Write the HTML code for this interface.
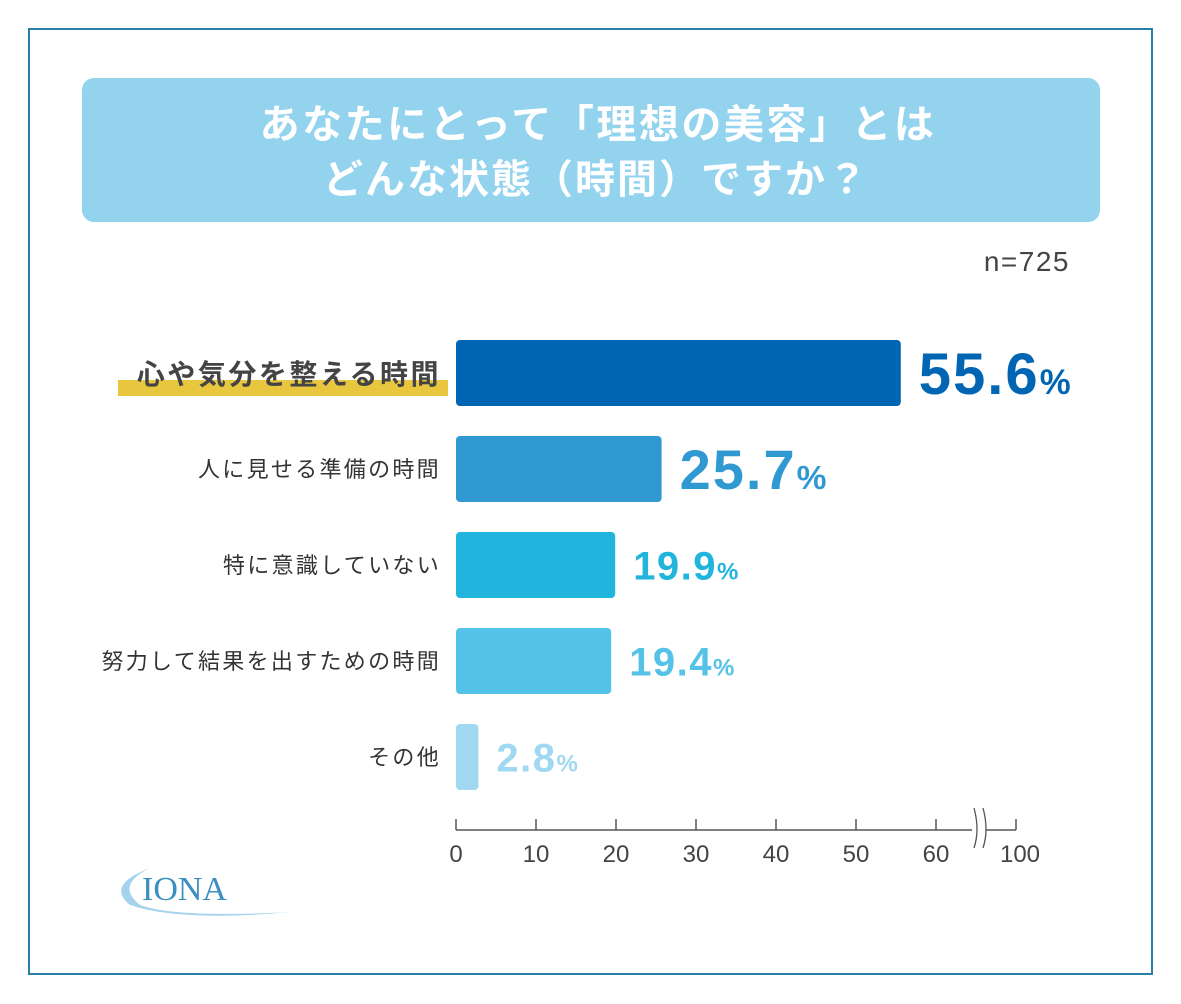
<!DOCTYPE html>
<html><head><meta charset="utf-8"><style>
body{margin:0;background:#fff;}
svg{display:block;font-family:"Liberation Sans","Noto Sans CJK JP",sans-serif;}
</style></head><body>
<svg width="1181" height="1004" viewBox="0 0 1181 1004" xmlns="http://www.w3.org/2000/svg">
<rect x="29" y="29" width="1123" height="945" fill="#fff" stroke="#2a7fa8" stroke-width="2"/>
<rect x="82" y="78" width="1018" height="144" rx="12" fill="#93d3ee"/>
<text x="598" y="138" text-anchor="middle" font-size="40" font-weight="bold" fill="#fff" letter-spacing="2.5">あなたにとって「理想の美容」とは</text>
<text x="596" y="193" text-anchor="middle" font-size="40" font-weight="bold" fill="#fff" letter-spacing="2">どんな状態（時間）ですか？</text>
<text x="1070" y="271" text-anchor="end" font-size="28" fill="#444" letter-spacing="1.5">n=725</text>
<rect x="118" y="380" width="330" height="16" fill="#e8c63e"/>
<g id="bars"></g>
<g id="axis"></g>
<g>
<path d="M150 868 Q115 885 140 905 Q175 918 290 912 Q180 922 130 905 Q105 885 150 868Z" fill="#8ec8e8" opacity="0.8"/>
<text x="142" y="900" font-family="Liberation Serif, serif" font-size="34" fill="#3a8fc0">IONA</text>
</g>
</svg>
<script>
const categories=["心や気分を整える時間","人に見せる準備の時間","特に意識していない","努力して結果を出すための時間","その他"];
const values=[55.6,25.7,19.9,19.4,2.8];
const ticks=[0,10,20,30,40,50,60];
const breakTick=100;
const NS="http://www.w3.org/2000/svg";
const colors=["#0065b2","#3199d2","#21b5dd","#55c3e7","#9fd8f0"];
const vfs=[58,56,40,40,40];
const vls=[2,2,1.5,1.5,1.5];
const x0=456,ppu=8;
function xs(v){return x0+v*ppu;}
function yb(i){return 340+i*96;}
const bars=document.getElementById('bars');
function mk(t,a){const e=document.createElementNS(NS,t);for(const k in a)e.setAttribute(k,a[k]);return e;}
categories.forEach((c,i)=>{
 const r=mk('rect',{x:x0,y:yb(i),width:xs(values[i])-x0,height:66,rx:4,fill:colors[i]});
 
 
 bars.appendChild(r);
 const l=mk('text',{x:441,y:yb(i)+33+(i==0?11:8),'text-anchor':'end','font-size':i==0?28:22,'letter-spacing':i==0?2.5:2.3,'font-weight':i==0?'bold':'normal',fill:i==0?'#444':'#333'});
 l.textContent=c;
 
 
 bars.appendChild(l);
 const t=mk('text',{x:xs(values[i])+18,y:yb(i)+33+vfs[i]*0.36,'font-size':vfs[i],'letter-spacing':vls[i],'font-weight':'bold',fill:colors[i]});
 t.textContent=values[i].toFixed(1);
 const p=mk('tspan',{'font-size':vfs[i]*0.6});p.textContent='%';t.appendChild(p);
 
 
 bars.appendChild(t);
});
const ax=document.getElementById('axis');
const al=mk('line',{x1:456,y1:830,x2:1016,y2:830,stroke:'#555','stroke-width':1.5});


ax.appendChild(al);
ticks.concat([breakTick]).forEach(v=>{
 const x=v===breakTick?1016:xs(v);
 const tk=mk('line',{x1:x,y1:819,x2:x,y2:830,stroke:'#555','stroke-width':1.5});
 
 
 ax.appendChild(tk);
 const tl=mk('text',{x:x+(v===breakTick?4:0),y:862,'text-anchor':'middle','font-size':24,fill:'#444'});
 tl.textContent=v;
 
 
 ax.appendChild(tl);
});
const br=mk('rect',{x:972,y:808,width:14,height:40,fill:'#fff'});


ax.appendChild(br);
['M974 808 Q980 830 974 848','M983 808 Q989 830 983 848'].forEach(d=>{
 const p=mk('path',{d:d,stroke:'#555',fill:'none','stroke-width':1.3});
 
 
 ax.appendChild(p);
});
</script>
</body></html>
